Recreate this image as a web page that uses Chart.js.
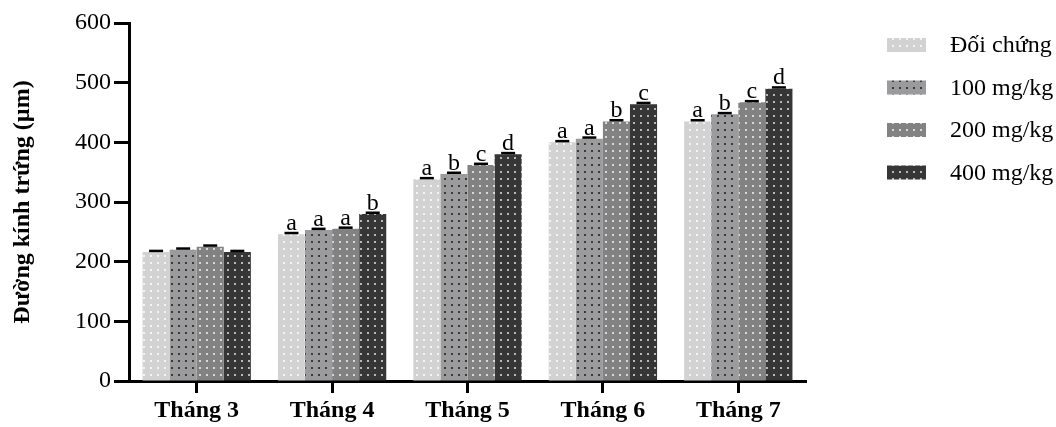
<!DOCTYPE html>
<html>
<head>
<meta charset="utf-8">
<script src="https://cdn.jsdelivr.net/npm/chart.js"></script>
<style>
  html, body { margin: 0; padding: 0; background: #fff; overflow: hidden; }
  #wrap { width: 1056px; height: 427px; }
</style>
</head>
<body>
<div id="wrap"><canvas id="eggChart"></canvas></div>
<script>
// data
const months = ["Tháng 3", "Tháng 4", "Tháng 5", "Tháng 6", "Tháng 7"];
const groups = ["Đối chứng", "100 mg/kg", "200 mg/kg", "400 mg/kg"];
const control = [216, 246, 338, 400, 435];
const dose100 = [220, 253, 347, 406, 447];
const dose200 = [225, 255, 362, 435, 467];
const dose400 = [216, 280, 380, 464, 490];
const errs = [
  [2, 2, 2, 2, 2],
  [2, 2, 2, 2, 2],
  [2, 2, 2, 2, 2],
  [2, 2, 2, 2, 2]
];
const letters = [
  ["", "a", "a", "a", "a"],
  ["", "a", "b", "a", "b"],
  ["", "a", "c", "b", "c"],
  ["", "b", "d", "c", "d"]
];
const yTicks = [0, 100, 200, 300, 400, 500, 600];

const serif = "'Liberation Serif', 'DejaVu Serif', serif";
const canvas = document.getElementById("eggChart");
const ctx0 = canvas.getContext("2d");

// dotted fill like the printed figure
function dots(bg, dot) {
  const c = document.createElement("canvas");
  c.width = 7; c.height = 7;
  const g = c.getContext("2d");
  g.fillStyle = bg;
  g.fillRect(0, 0, 7, 7);
  g.fillStyle = dot;
  g.fillRect(3, 3, 2, 2);
  return ctx0.createPattern(c, "repeat");
}

const fills = [
  dots("#d2d2d2", "#f4f4f4"),
  dots("#9b9b9e", "#3a3a3a"),
  dots("#828282", "#d8d8d8"),
  dots("#363636", "#b8b8b8")
];

// error caps + significance letters
const capsPlugin = {
  id: "caps",
  afterDatasetsDraw(chart) {
    const ctx = chart.ctx;
    const y = chart.scales.y;
    ctx.save();
    chart.data.datasets.forEach(function(ds, i) {
      const meta = chart.getDatasetMeta(i);
      meta.data.forEach(function(bar, j) {
        const top = y.getPixelForValue(ds.data[j] + errs[i][j]);
        ctx.strokeStyle = "#000";
        ctx.lineWidth = 2.5;
        ctx.beginPath();
        ctx.moveTo(bar.x - 7, top);
        ctx.lineTo(bar.x + 7, top);
        ctx.stroke();
        if (letters[i][j]) {
          ctx.fillStyle = "#000";
          ctx.font = "24px " + serif;
          ctx.textAlign = "center";
          ctx.textBaseline = "alphabetic";
          ctx.fillText(letters[i][j], bar.x, top - 3);
        }
      });
    });
    ctx.restore();
  }
};

// legend on the right
const legendPlugin = {
  id: "sideLegend",
  afterDraw(chart) {
    const ctx = chart.ctx;
    ctx.save();
    chart.data.datasets.forEach(function(ds, i) {
      const cy = 45 + i * 42.5;
      ctx.fillStyle = ds.backgroundColor;
      ctx.fillRect(887, cy - 7, 39, 14);
      ctx.fillStyle = "#000";
      ctx.font = "24px " + serif;
      ctx.textAlign = "left";
      ctx.textBaseline = "middle";
      ctx.fillText(ds.label, 950, cy + 1);
    });
    ctx.restore();
  }
};

const seriesValues = [control, dose100, dose200, dose400];

new Chart(canvas, {
  type: "bar",
  data: {
    labels: months,
    datasets: groups.map(function(name, i) {
      return {
        label: name,
        data: seriesValues[i],
        backgroundColor: fills[i],
        borderWidth: 0,
        categoryPercentage: 0.8,
        barPercentage: 1.0
      };
    })
  },
  options: {
    responsive: true,
    maintainAspectRatio: false,
    animation: false,
    layout: { padding: { left: 5, top: 23, right: 250, bottom: 4 } },
    plugins: {
      legend: { display: false },
      tooltip: { enabled: false }
    },
    scales: {
      x: {
        afterFit: function(scale) { scale.height = 42; },
        grid: {
          offset: false,
          drawOnChartArea: false,
          drawTicks: true,
          tickLength: 12,
          tickWidth: 3,
          tickColor: "#000"
        },
        border: { display: true, color: "#000", width: 3 },
        ticks: {
          color: "#000",
          padding: 3,
          font: { family: serif, size: 24, weight: "bold" }
        }
      },
      y: {
        min: 0,
        max: 600,
        afterBuildTicks: function(scale) {
          scale.ticks = yTicks.map(function(v) { return { value: v }; });
        },
        afterFit: function(scale) { scale.width = 124; },
        grid: {
          drawOnChartArea: false,
          drawTicks: true,
          tickLength: 15,
          tickWidth: 3,
          tickColor: "#000"
        },
        border: { display: true, color: "#000", width: 3 },
        ticks: {
          color: "#000",
          padding: 3,
          font: { family: serif, size: 24 }
        },
        title: {
          display: true,
          text: "Đường kính trứng (µm)",
          color: "#000",
          padding: { top: 3, bottom: 0 },
          font: { family: serif, size: 24, weight: "bold" }
        }
      }
    }
  },
  plugins: [capsPlugin, legendPlugin]
});
</script>
</body>
</html>
